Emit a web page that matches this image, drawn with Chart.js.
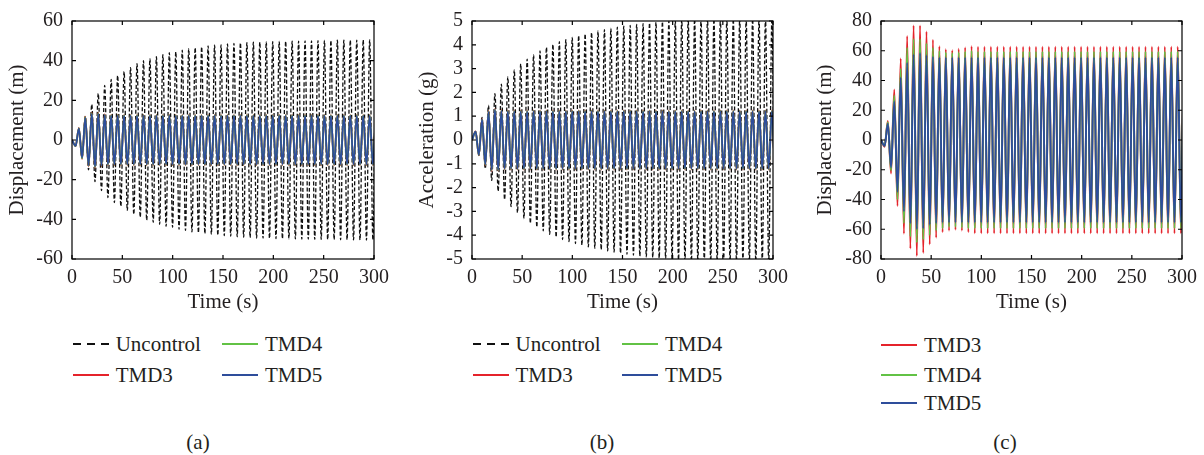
<!DOCTYPE html>
<html>
<head>
<meta charset="utf-8">
<script src="https://cdn.jsdelivr.net/npm/chart.js@4.4.1/dist/chart.umd.min.js"></script>
<style>
  body { margin: 0; background: #fff; width: 1204px; height: 455px; position: relative; overflow: hidden;
         font-family: "Liberation Serif", serif; color: #231f20; }
  canvas { position: absolute; top: 0; }
  .item { position: absolute; height: 24px; display: flex; align-items: center; font-size: 21px; white-space: nowrap; }
  .sw { width: 36px; height: 1.5px; margin-right: 7px; }
  .dash { background: repeating-linear-gradient(to right, #111 0 8px, transparent 8px 14px); }
  .cap { position: absolute; font-size: 21px; transform: translate(-50%, -50%); }
</style>
</head>
<body>
<canvas id="chartA" width="400" height="320" style="left:0px"></canvas>
<canvas id="chartB" width="400" height="320" style="left:400px"></canvas>
<canvas id="chartC" width="404" height="320" style="left:800px"></canvas>
<div id="legends"></div>

<script>
// Time axis: every half cycle of the forcing (period ~6.42 s)
const FIRST_PEAK_T = 3.6;
const HALF_PERIOD = 3.21;
const N_HALF = 95;
const xTicks = [0, 50, 100, 150, 200, 250, 300];

// Peak magnitudes per half cycle; after the list ends the steady value holds
// (a) displacement (m), first swing negative
const dispUncontrol = [3, 6, 9, 12, 15, 18, 21, 23.5, 25.5, 27.5, 29, 30.5, 31.5, 32.5, 33.5, 34.5, 35.5, 36.5,
  37.5, 38.5, 39, 40, 40.5, 41, 41.5, 42, 42.5, 43, 43.5, 44, 44, 44.5, 45, 45.3, 45.6, 46, 46.3, 46.6, 46.8,
  47, 47.2, 47.4, 47.6, 47.8, 48, 48, 48.2, 48.4, 48.5, 48.7, 48.8, 49, 49, 49.1, 49.2, 49.3, 49.4, 49.4,
  49.5, 49.5, 49.6, 49.6, 49.7, 49.7, 49.8, 49.8, 49.8, 49.9, 49.9, 49.9, 50, 50, 50, 50, 50.1, 50.1, 50.1,
  50.2, 50.2, 50.2, 50.2, 50.3, 50.3, 50.3, 50.3, 50.4, 50.4, 50.4, 50.4, 50.5];
const dispUncontrolSteady = 50.5;
const dispTMD3 = [3.1, 6, 9.5, 11.8, 13.2, 13.8, 14, 13.8, 13.3, 13];
const dispTMD3Steady = 12.7;
const dispTMD4 = [3.1, 5.9, 9.3, 11.5, 12.9, 13.5, 13.7, 13.5, 13, 12.7];
const dispTMD4Steady = 12.5;
const dispTMD5 = [3, 5.7, 9, 11.2, 12.6, 13.2, 13.4, 13.2, 12.8, 12.5];
const dispTMD5Steady = 12.3;

// (b) acceleration (g), first swing positive
const accUncontrol = [0.35, 0.65, 0.95, 1.2, 1.45, 1.7, 1.95, 2.15, 2.35, 2.5, 2.65, 2.8, 2.95, 3.05, 3.2, 3.3,
  3.4, 3.5, 3.58, 3.66, 3.74, 3.82, 3.9, 3.96, 4.02, 4.08, 4.13, 4.18, 4.22, 4.27, 4.31, 4.35, 4.39, 4.42, 4.46,
  4.49, 4.52, 4.55, 4.58, 4.61, 4.64, 4.66, 4.69, 4.71, 4.74, 4.76, 4.78, 4.8, 4.82, 4.84, 4.86, 4.88, 4.89,
  4.91, 4.92, 4.94, 4.95, 4.96, 4.97, 4.98, 4.99, 5.0, 5.02, 5.04, 5.06, 5.08];
const accUncontrolSteady = 5.1;
const accTMD3 = [0.36, 0.64, 0.88, 1.06, 1.22, 1.3, 1.31, 1.29, 1.26];
const accTMD3Steady = 1.24;
const accTMD4 = [0.35, 0.63, 0.86, 1.04, 1.2, 1.27, 1.29, 1.27, 1.24];
const accTMD4Steady = 1.22;
const accTMD5 = [0.35, 0.62, 0.85, 1.02, 1.18, 1.25, 1.27, 1.25, 1.22];
const accTMD5Steady = 1.2;

// (c) displacement (m), first swing negative
const dispC_TMD3 = [4.5, 12.8, 22.5, 33.9, 44.4, 54.8, 63, 70, 73, 77, 78, 77, 76, 73, 70.3, 67.5, 65.7, 63,
  62, 61, 61, 60.3, 60.4, 61.3, 61, 62.2, 62, 63];
const dispC_TMD3Steady = 62.8;
const dispC_TMD4 = [4, 12, 20.5, 30, 40, 48, 56, 62, 65, 68, 69, 68, 67, 65, 64, 62, 61, 60, 59.5, 59, 58.5,
  58.5, 58.5, 59, 59, 59.5, 59.5, 60];
const dispC_TMD4Steady = 59.5;
const dispC_TMD5 = [4, 11, 18.5, 26, 35, 42, 48, 52, 56, 57.5, 60, 58.5, 59.5, 57, 57, 56, 56, 55.5];
const dispC_TMD5Steady = 55.5;

const COLORS = { unc: '#111111', tmd3: '#e5232b', tmd4: '#62c245', tmd5: '#2e4d9b' };
const FONT = { family: '"Liberation Serif", serif', size: 20 };
const TITLE_FONT = { family: '"Liberation Serif", serif', size: 21 };
const TEXT = '#231f20';

Chart.defaults.font.family = FONT.family;
Chart.defaults.font.size = FONT.size;
Chart.defaults.color = TEXT;

// one point per half-cycle peak, joined by a monotone curve
function buildSeries(peaks, steady, firstSign) {
  const pts = [{ x: 0, y: 0 }];
  for (let j = 0; j < N_HALF; j++) {
    const amp = j < peaks.length ? peaks[j] : steady;
    const sign = j % 2 === 0 ? firstSign : -firstSign;
    pts.push({ x: FIRST_PEAK_T + j * HALF_PERIOD, y: sign * amp });
  }
  return pts;
}

function lineSet(label, data, color, order, width, dashed) {
  return {
    label, data, order,
    borderColor: color,
    borderWidth: width,
    borderDash: dashed ? [4, 2.2] : [],
    pointRadius: 0,
    cubicInterpolationMode: 'monotone',
    fill: false
  };
}

// box frame with inward ticks on all four sides
const framePlugin = {
  id: 'frame',
  afterDraw(chart) {
    const { ctx, chartArea: a, scales: { x, y } } = chart;
    ctx.save();
    ctx.strokeStyle = '#000';
    ctx.lineWidth = 1.2;
    ctx.strokeRect(a.left, a.top, a.right - a.left, a.bottom - a.top);
    ctx.beginPath();
    x.ticks.forEach(t => {
      const px = x.getPixelForValue(t.value);
      ctx.moveTo(px, a.bottom); ctx.lineTo(px, a.bottom - 4);
      ctx.moveTo(px, a.top); ctx.lineTo(px, a.top + 4);
    });
    y.ticks.forEach(t => {
      const py = y.getPixelForValue(t.value);
      ctx.moveTo(a.left, py); ctx.lineTo(a.left + 4, py);
      ctx.moveTo(a.right, py); ctx.lineTo(a.right - 4, py);
    });
    ctx.stroke();
    ctx.restore();
  }
};

function makePanel(id, datasets, yOpts, box) {
  new Chart(document.getElementById(id), {
    type: 'line',
    data: { datasets },
    plugins: [framePlugin],
    options: {
      responsive: false,
      animation: false,
      layout: { padding: { top: 16, right: box.right, left: 0, bottom: 0 } },
      plugins: { legend: { display: false }, tooltip: { enabled: false } },
      scales: {
        x: {
          type: 'linear', min: 0, max: 300,
          afterBuildTicks: s => { s.ticks = xTicks.map(v => ({ value: v })); },
          ticks: { padding: 7, color: TEXT, font: FONT, maxRotation: 0, autoSkip: false },
          grid: { display: false, drawTicks: false },
          border: { display: false },
          title: { display: true, text: 'Time (s)', color: TEXT, font: TITLE_FONT, padding: { top: 0, bottom: 4.5 } },
          afterFit: s => { s.height = 61; }
        },
        y: {
          min: yOpts.min, max: yOpts.max,
          ticks: { stepSize: yOpts.step, padding: 9, color: TEXT, font: FONT, autoSkip: false },
          grid: { display: false, drawTicks: false },
          border: { display: false },
          title: { display: true, text: yOpts.title, color: TEXT, font: TITLE_FONT, padding: { top: box.titlePad, bottom: 0 } },
          afterFit: s => { s.width = box.left; }
        }
      }
    }
  });
}

makePanel('chartA', [
  lineSet('Uncontrol', buildSeries(dispUncontrol, dispUncontrolSteady, -1), COLORS.unc, 3, 1.3, true),
  lineSet('TMD3', buildSeries(dispTMD3, dispTMD3Steady, -1), COLORS.tmd3, 2, 1.8),
  lineSet('TMD4', buildSeries(dispTMD4, dispTMD4Steady, -1), COLORS.tmd4, 1, 1.8),
  lineSet('TMD5', buildSeries(dispTMD5, dispTMD5Steady, -1), COLORS.tmd5, 0, 1.8)
], { min: -60, max: 60, step: 20, title: 'Displacement (m)' }, { left: 72, right: 26, titlePad: 5 });

makePanel('chartB', [
  lineSet('Uncontrol', buildSeries(accUncontrol, accUncontrolSteady, 1), COLORS.unc, 3, 1.3, true),
  lineSet('TMD3', buildSeries(accTMD3, accTMD3Steady, 1), COLORS.tmd3, 2, 1.8),
  lineSet('TMD4', buildSeries(accTMD4, accTMD4Steady, 1), COLORS.tmd4, 1, 1.8),
  lineSet('TMD5', buildSeries(accTMD5, accTMD5Steady, 1), COLORS.tmd5, 0, 1.8)
], { min: -5, max: 5, step: 1, title: 'Acceleration (g)' }, { left: 72, right: 27, titlePad: 14.5 });

makePanel('chartC', [
  lineSet('TMD3', buildSeries(dispC_TMD3, dispC_TMD3Steady, -1), COLORS.tmd3, 2, 1.9),
  lineSet('TMD4', buildSeries(dispC_TMD4, dispC_TMD4Steady, -1), COLORS.tmd4, 1, 1.9),
  lineSet('TMD5', buildSeries(dispC_TMD5, dispC_TMD5Steady, -1), COLORS.tmd5, 0, 1.9)
], { min: -80, max: 80, step: 20, title: 'Displacement (m)' }, { left: 81, right: 22, titlePad: 12.5 });

// legends and captions
const legendItems = [
  ['Uncontrol', 'unc', 72.7, 344], ['TMD4', 'tmd4', 222, 344], ['TMD3', 'tmd3', 72.7, 375], ['TMD5', 'tmd5', 222, 375],
  ['Uncontrol', 'unc', 472.5, 344], ['TMD4', 'tmd4', 622, 344], ['TMD3', 'tmd3', 472.5, 375], ['TMD5', 'tmd5', 622, 375],
  ['TMD3', 'tmd3', 881, 345], ['TMD4', 'tmd4', 881, 375], ['TMD5', 'tmd5', 881, 403]
];
const captions = [['(a)', 198, 442], ['(b)', 602, 442], ['(c)', 1005, 442]];

const host = document.getElementById('legends');
legendItems.forEach(([label, key, x, y]) => {
  const el = document.createElement('div');
  el.className = 'item';
  el.style.left = x + 'px';
  el.style.top = (y - 12) + 'px';
  const sw = document.createElement('span');
  sw.className = 'sw' + (key === 'unc' ? ' dash' : '');
  if (key !== 'unc') sw.style.background = COLORS[key];
  el.appendChild(sw);
  el.appendChild(document.createTextNode(label));
  host.appendChild(el);
});
captions.forEach(([text, x, y]) => {
  const el = document.createElement('div');
  el.className = 'cap';
  el.style.left = x + 'px';
  el.style.top = y + 'px';
  el.textContent = text;
  host.appendChild(el);
});
</script>
</body>
</html>
